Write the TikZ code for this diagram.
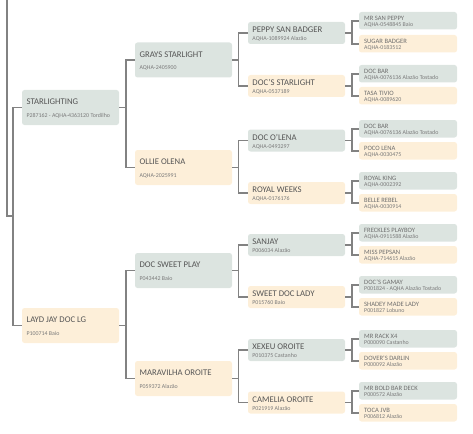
\documentclass[tikz,border=0pt]{standalone}
\usepackage{fontspec}
\setmainfont{Carlito}
\usetikzlibrary{calc}
\definecolor{boxg}{HTML}{DCE4E0}
\definecolor{boxo}{HTML}{FDEFD9}
\definecolor{linec}{HTML}{828282}
\definecolor{namec}{HTML}{555555}
\definecolor{namelc}{HTML}{6E6E6E}
\definecolor{codec}{HTML}{7A7A7A}
\tikzset{
  pbox/.style={draw=none, rounded corners=2.5pt, inner sep=0pt, outer sep=0pt, anchor=north west},
  bigname/.style={font=\fontsize{8.7}{10}\selectfont, text=namec, inner sep=0pt, outer sep=0pt, anchor=base west},
  smallname/.style={font=\fontsize{6.6}{8}\selectfont, text=namelc, inner sep=0pt, outer sep=0pt, anchor=base west},
  codetxt/.style={font=\fontsize{5.9}{7}\selectfont, text=codec, inner sep=0pt, outer sep=0pt, anchor=base west},
  conn/.style={draw=linec, line width=1.6pt},
}
% generation 1 and 2: id, x, y, colour, name, code
\newcommand\pedBig[6]{%
  \node[pbox, fill=#4, minimum width=97pt, minimum height=35pt] (#1) at (#2,#3) {};
  \node[bigname] (#1n) at ($(#1.north west)+(4.6,14.8)$) {#5};
  \node[codetxt] (#1c) at ($(#1.north west)+(4.6,27.2)$) {#6};
}
% generation 3
\newcommand\pedMid[5]{%
  \node[pbox, fill=#3, minimum width=97pt, minimum height=22pt] (#1) at (248,#2) {};
  \node[bigname] (#1n) at ($(#1.north west)+(4.4,10.9)$) {#4};
  \node[codetxt] (#1c) at ($(#1.north west)+(4.4,18.8)$) {#5};
}
% generation 4
\newcommand\pedSmall[5]{%
  \node[pbox, fill=#3, minimum width=98pt, minimum height=17.5pt] (#1) at (359,#2) {};
  \node[smallname] (#1n) at ($(#1.north west)+(5.2,8.5)$) {#4};
  \node[codetxt] (#1c) at ($(#1.north west)+(5.2,14.9)$) {#5};
}
\begin{document}
\begin{tikzpicture}[x=1pt,y=-1pt]
\useasboundingbox (0,0) rectangle (473,433);
% generation 1
\pedBig{a1}{22}{90}{boxg}{STARLIGHTING}{P287162 - AQHA-4363120 Tordilho}
\pedBig{a2}{22}{308}{boxo}{LAYD JAY DOC LG}{P100714 Baio}
% generation 2
\pedBig{b1}{135}{42.5}{boxg}{GRAYS STARLIGHT}{AQHA-2405900}
\pedBig{b2}{135}{150}{boxo}{OLLIE OLENA}{AQHA-2025991}
\pedBig{b3}{135}{253}{boxg}{DOC SWEET PLAY}{P043442 Baio}
\pedBig{b4}{135}{361}{boxo}{MARAVILHA OROITE}{P059372 Alazão}
% generation 3
\pedMid{c1}{22}{boxg}{PEPPY SAN BADGER}{AQHA-1089924 Alazão}
\pedMid{c2}{75}{boxo}{DOC'S STARLIGHT}{AQHA-0537189}
\pedMid{c3}{129.5}{boxg}{DOC O'LENA}{AQHA-0493297}
\pedMid{c4}{182}{boxo}{ROYAL WEEKS}{AQHA-0176176}
\pedMid{c5}{234}{boxg}{SANJAY}{P006034 Alazão}
\pedMid{c6}{286}{boxo}{SWEET DOC LADY}{P015760 Baio}
\pedMid{c7}{339}{boxg}{XEXEU OROITE}{P010375 Castanho}
\pedMid{c8}{391.5}{boxo}{CAMELIA OROITE}{P021919 Alazão}
% generation 4
\pedSmall{d1}{12}{boxg}{MR SAN PEPPY}{AQHA-0548845 Baio}
\pedSmall{d2}{35}{boxo}{SUGAR BADGER}{AQHA-0183512}
\pedSmall{d3}{65}{boxg}{DOC BAR}{AQHA-0076136 Alazão Tostado}
\pedSmall{d4}{87}{boxo}{TASA TIVIO}{AQHA-0089620}
\pedSmall{d5}{120}{boxg}{DOC BAR}{AQHA-0076136 Alazão Tostado}
\pedSmall{d6}{142}{boxo}{POCO LENA}{AQHA-0030475}
\pedSmall{d7}{172}{boxg}{ROYAL KING}{AQHA-0002392}
\pedSmall{d8}{194}{boxo}{BELLE REBEL}{AQHA-0030914}
\pedSmall{d9}{224}{boxg}{FRECKLES PLAYBOY}{AQHA-0911588 Alazão}
\pedSmall{d10}{246}{boxo}{MISS PEPSAN}{AQHA-714615 Alazão}
\pedSmall{d11}{276}{boxg}{DOC'S GAMAY}{P001824 - AQHA Alazão Tostado}
\pedSmall{d12}{298}{boxo}{SHADEY MADE LADY}{P001827 Lobuno}
\pedSmall{d13}{330}{boxg}{MR RACK X4}{P000090 Castanho}
\pedSmall{d14}{352}{boxo}{DOVER'S DARLIN}{P000092 Alazão}
\pedSmall{d15}{382}{boxg}{MR BOLD BAR DECK}{P000572 Alazão}
\pedSmall{d16}{404}{boxo}{TOCA JVB}{P006812 Alazão}
% connectors
\coordinate (topend) at (7,0);
\coordinate (outj) at (13,216);
\draw[conn] (topend) |- (outj);
\draw[conn] (a1.west) -- ++(-9,0) |- (a2.west);
\foreach \p in {1,2}{
  \pgfmathtruncatemacro\ca{2*\p-1}
  \pgfmathtruncatemacro\cb{2*\p}
  \draw[conn] (a\p.east) -- ++(7,0);
  \draw[conn] (b\ca.west) -- ++(-9,0) |- (b\cb.west);
}
\foreach \p in {1,...,4}{
  \pgfmathtruncatemacro\ca{2*\p-1}
  \pgfmathtruncatemacro\cb{2*\p}
  \draw[conn] (b\p.east) -- ++(6.5,0);
  \draw[conn] (c\ca.west) -- ++(-9.5,0) |- (c\cb.west);
}
\foreach \p in {1,...,8}{
  \pgfmathtruncatemacro\ca{2*\p-1}
  \pgfmathtruncatemacro\cb{2*\p}
  \draw[conn] (c\p.east) -- ++(7,0);
  \draw[conn] (d\ca.west) -- ++(-7,0) |- (d\cb.west);
}
\end{tikzpicture}
\end{document}
